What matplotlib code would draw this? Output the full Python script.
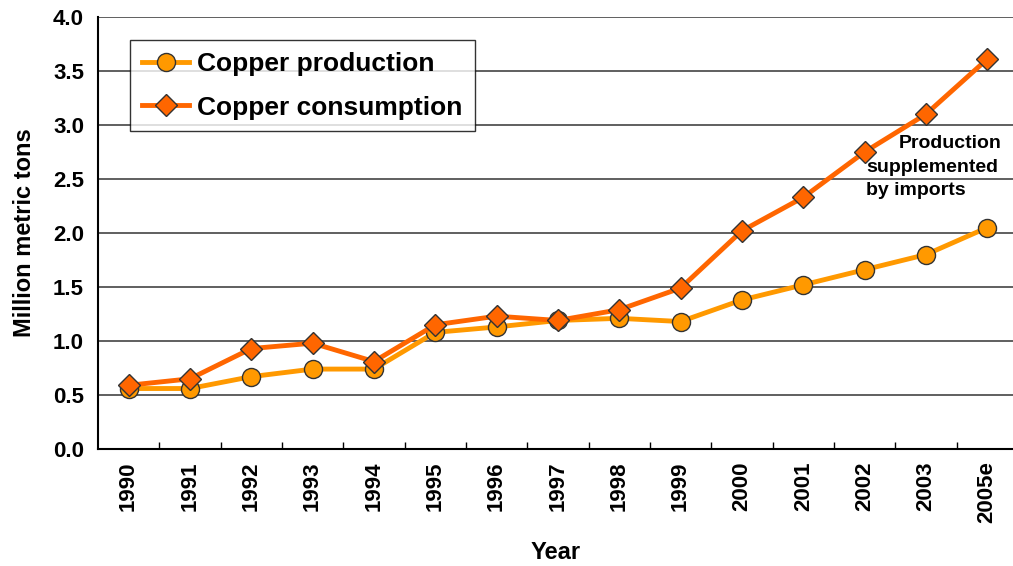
import matplotlib
matplotlib.use("Agg")
import matplotlib.pyplot as plt
import numpy as np

# Data
years = ["1990", "1991", "1992", "1993", "1994", "1995", "1996", "1997",
         "1998", "1999", "2000", "2001", "2002", "2003", "2005e"]
production = [0.56, 0.56, 0.67, 0.74, 0.74, 1.08, 1.13, 1.19,
              1.21, 1.18, 1.38, 1.52, 1.66, 1.80, 2.05]
consumption = [0.59, 0.65, 0.93, 0.98, 0.81, 1.15, 1.23, 1.19,
               1.29, 1.49, 2.02, 2.33, 2.75, 3.10, 3.61]

plt.rcParams['font.family'] = ['Liberation Sans', 'DejaVu Sans']
plt.rcParams['font.weight'] = 'bold'

fig = plt.figure(figsize=(10.13, 5.66), dpi=100)
ax = fig.add_axes([0.0967, 0.2067, 0.9033, 0.7633])

x = np.arange(len(years))
ax.plot(x, production, color='#FF9900', lw=3.5, marker='o', markersize=13,
        markerfacecolor='#FF9900', markeredgecolor='#333333', markeredgewidth=1,
        label='Copper production', zorder=3)
ax.plot(x, consumption, color='#FF6600', lw=3.5, marker='D', markersize=11,
        markerfacecolor='#FF6600', markeredgecolor='#333333', markeredgewidth=1,
        label='Copper consumption', zorder=4)

ax.set_xlim(-0.5, 14.42)
ax.set_ylim(0, 4.0)
ax.set_yticks(np.arange(0, 4.01, 0.5))
ax.set_yticklabels([f"{v:.1f}" for v in np.arange(0, 4.01, 0.5)])
ax.yaxis.grid(True, color='#444444', lw=1.2)
ax.set_axisbelow(True)
ax.tick_params(axis='y', length=0, pad=10, labelsize=16)

ax.set_xticks(x)
ax.set_xticklabels(years, rotation=90, va='top')
ax.set_xticks(np.arange(0.5, len(years) - 1, 1), minor=True)
ax.tick_params(axis='x', which='major', length=0, pad=9, labelsize=16)
ax.tick_params(axis='x', which='minor', direction='in', length=5, width=1)

for s in ['top', 'right']:
    ax.spines[s].set_visible(False)
ax.spines['left'].set_linewidth(1.5)
ax.spines['bottom'].set_linewidth(1.5)

ax.set_ylabel("Million metric tons", fontsize=17, fontweight='bold', labelpad=12)
ax.set_xlabel("Year", fontsize=17, fontweight='bold', labelpad=13)

ax.text(14.23, 2.833, "Production", ha='right', va='center', fontsize=14, fontweight='bold')
ax.text(12.03, 2.611, "supplemented", ha='left', va='center', fontsize=14, fontweight='bold')
ax.text(12.03, 2.398, "by imports", ha='left', va='center', fontsize=14, fontweight='bold')

leg = ax.legend(loc='upper left', bbox_to_anchor=(0.035, 0.947), fontsize=19,
                frameon=True, fancybox=False, edgecolor='black', handlelength=1.8,
                borderpad=0.45, labelspacing=0.75, handletextpad=0.3, borderaxespad=0)
leg.get_frame().set_linewidth(1)
for t in leg.get_texts():
    t.set_fontweight('bold')

fig.savefig("out.png", dpi=100)
